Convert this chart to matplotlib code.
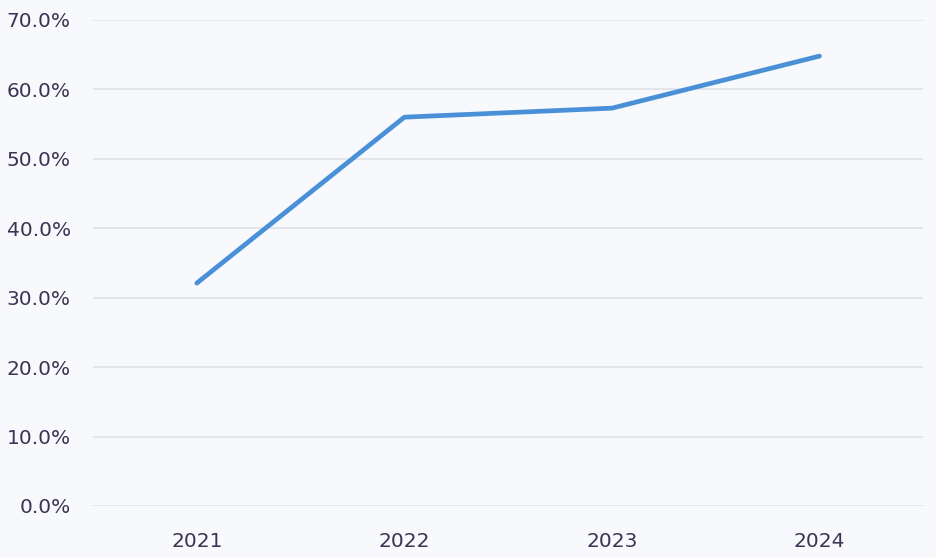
import matplotlib.pyplot as plt
from matplotlib.ticker import FuncFormatter

years = ["2021", "2022", "2023", "2024"]
share = [32.1, 56.0, 57.3, 64.8]
yticks = [0, 10, 20, 30, 40, 50, 60, 70]

bg = "#f8f9fd"
textc = "#3d3352"

fig = plt.figure(figsize=(9.36, 5.58), dpi=100, facecolor=bg)
ax = fig.add_axes([0.0994, 0.0932, 0.887, 0.871], facecolor=bg)

ax.plot(range(len(years)), share, color="#4a90d9", linewidth=3.4,
        solid_capstyle="round", solid_joinstyle="round", zorder=3)

ax.set_xlim(-0.5, 3.5)
ax.set_ylim(0, 70)
ax.set_yticks(yticks)
ax.yaxis.set_major_formatter(FuncFormatter(lambda v, p: f"{v:.1f}%"))
ax.set_xticks(range(len(years)))
ax.set_xticklabels(years)

ax.grid(axis="y", color="#dcdfe8", linewidth=1.1)
ax.set_axisbelow(True)
for s in ax.spines.values():
    s.set_visible(False)
ax.tick_params(length=0, labelsize=14.5, labelcolor=textc)
ax.tick_params(axis="y", pad=16)
ax.tick_params(axis="x", pad=19)

fig.savefig("out.png", dpi=100, facecolor=bg)
